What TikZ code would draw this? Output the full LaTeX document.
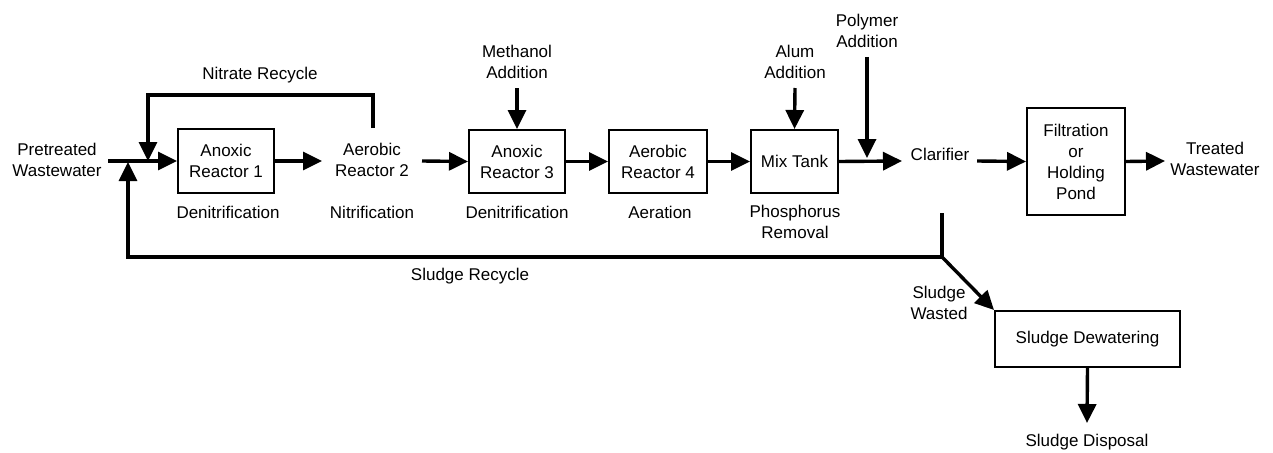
\documentclass[tikz,border=0pt]{standalone}
\usepackage{fontspec}
\setmainfont{Liberation Sans}
\usetikzlibrary{arrows.meta}
\begin{document}
\begin{tikzpicture}[x=1pt,y=-1pt,
  font=\fontsize{17}{21}\selectfont,
  box/.style={draw, line width=2pt, align=center, inner sep=0pt},
  lbl/.style={align=center, inner sep=0pt},
  pipe/.style={line width=3.4pt},
  flow/.style={line width=3.4pt, -{Triangle[length=19pt,width=18pt]}}]
\useasboundingbox (0,0) rectangle (1273,452);
% boxes
\node[box, minimum width=96pt, minimum height=64pt] (r1) at (226,161) {Anoxic\\Reactor 1};
\node[box, minimum width=96pt, minimum height=63pt] (r3) at (517,161.5) {Anoxic\\Reactor 3};
\node[box, minimum width=98pt, minimum height=63pt] (r4) at (658,161.5) {Aerobic\\Reactor 4};
\node[box, minimum width=87pt, minimum height=63pt] (mix) at (794.5,161.5) {Mix Tank};
\node[box, minimum width=98pt, minimum height=107pt] (filt) at (1076,161.5) {Filtration\\or\\Holding\\Pond};
\node[box, minimum width=185pt, minimum height=56pt] (dew) at (1087.5,339) {Sludge Dewatering};
% labels
\node[lbl] (pre) at (57,160) {Pretreated\\Wastewater};
\node[lbl] (aer2) at (372,160) {Aerobic\\Reactor 2};
\node[lbl] (clar) at (940,154) {Clarifier};
\node[lbl] (treated) at (1215,159) {Treated\\Wastewater};
\node[lbl] (nitrate) at (260,75) {Nitrate Recycle};
\node[lbl] (meth) at (517,62) {Methanol\\Addition};
\node[lbl] (alum) at (795,62) {Alum\\Addition};
\node[lbl] (poly) at (867,31) {Polymer\\Addition};
\node[lbl] (den1) at (228,212) {Denitrification};
\node[lbl] (nit) at (372,212) {Nitrification};
\node[lbl] (den3) at (517,212) {Denitrification};
\node[lbl] (aer) at (660,212) {Aeration};
\node[lbl] (phos) at (795,222) {Phosphorus\\Removal};
\node[lbl] (sludgerec) at (470,276) {Sludge Recycle};
\node[lbl] (wasted) at (939,303) {Sludge\\Wasted};
\node[lbl] (disp) at (1087,442) {Sludge Disposal};
% coordinates
\coordinate (in0) at (108,161);
\coordinate (njoin) at (148,161);
\coordinate (sjoin) at (128,162);
\coordinate (ntop) at (373,128);
\coordinate (a2in) at (322,161);
\coordinate (a2out) at (422,161);
\coordinate (methend) at (517,88);
\coordinate (alumend) at (795,88);
\coordinate (polyend) at (867,57);
\coordinate (polytip) at (867,158);
\coordinate (clin) at (902,161);
\coordinate (clout) at (977,161);
\coordinate (clbot) at (942,213);
\coordinate (split) at (942,257);
\coordinate (twin) at (1165,161);
\coordinate (disptip) at (1087,423);
% connectors
\draw[flow] (in0) -- (r1.west);
\draw[flow] (ntop) -- (373,95) -- (148,95) -- (njoin);
\draw[flow] (split) -- (128,257) -- (sjoin);
\draw[pipe] (clbot) -- (split);
\draw[flow] (split) -- (dew.north west);
\draw[flow] (r1.east) -- (a2in);
\draw[flow] (a2out) -- (r3.west);
\draw[flow] (r3.east) -- (r4.west);
\draw[flow] (r4.east) -- (mix.west);
\draw[flow] (mix.east) -- (clin);
\draw[flow] (methend) -- (r3.north);
\draw[flow] (alumend) -- (mix.north);
\draw[flow] (polyend) -- (polytip);
\draw[flow] (clout) -- (filt.west);
\draw[flow] (filt.east) -- (twin);
\draw[flow] (dew.south) -- (disptip);
\end{tikzpicture}
\end{document}
